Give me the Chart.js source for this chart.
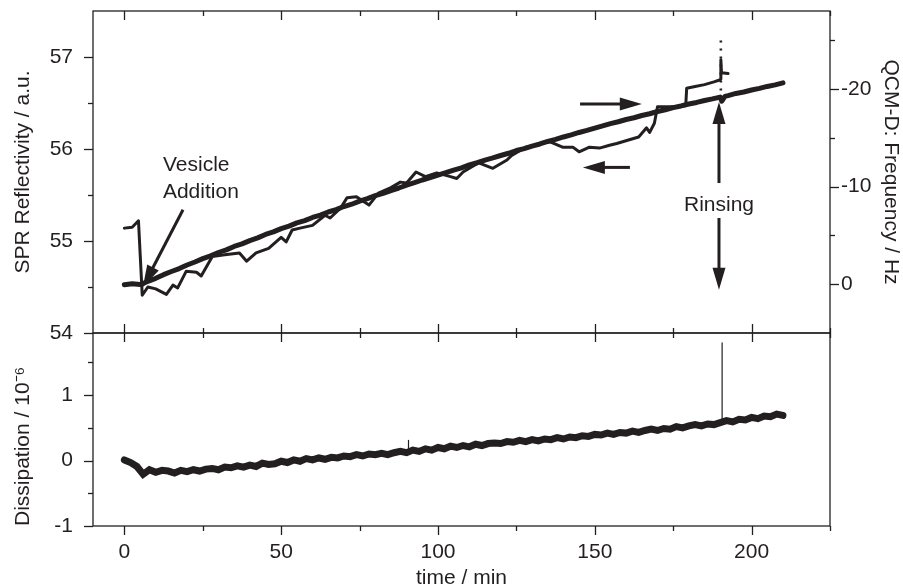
<!DOCTYPE html>
<html>
<head>
<meta charset="utf-8">
<title>SPR / QCM-D vesicle adsorption</title>
<script src="https://cdn.jsdelivr.net/npm/chart.js@4.4.1/dist/chart.umd.min.js"></script>
<style>
  html, body { margin: 0; padding: 0; background: #fff; overflow: hidden; }
  #wrap { position: relative; width: 903px; height: 585px; }
  #wrap canvas { position: absolute; left: 0; top: 0; }
</style>
</head>
<body>
<div id="wrap">
  <canvas id="topChart" width="903" height="585"></canvas>
  <canvas id="bottomChart" width="903" height="585"></canvas>
</div>
<script>
const ink = "#231f20";
Chart.defaults.font.family = "'Liberation Sans', Arial, Helvetica, sans-serif";
Chart.defaults.font.size = 21;
Chart.defaults.color = ink;

// time axis, min
const timeMin = -10, timeMax = 225;
const timeMajor = [0, 50, 100, 150, 200];
const timeMinor = [25, 75, 125, 175, 225];

// SPR reflectivity, left axis (a.u.)
const sprTime = [0, 2.5, 4.5, 5.7, 7.5, 10, 13.4, 15.5, 17, 19.7, 23, 24.5, 28, 32, 36.7, 39, 42, 46, 50, 51.6,
  53.5, 56, 60, 64, 65.6, 69, 71, 74, 78, 81, 85, 88, 90, 93, 96, 99.6, 104, 106, 108, 113,
  117.5, 122, 123.5, 128, 132, 135.6, 139.7, 143, 145, 148.3, 151.5, 154.7, 157, 161, 164, 166.5, 167.5, 169, 170, 175,
  179, 179.3, 182, 185, 188, 189.8, 190.2, 190.2, 190.4, 192.5];
const sprValue = [55.14, 55.15, 55.22, 54.41, 54.50, 54.48, 54.42, 54.52, 54.49, 54.67, 54.66, 54.62, 54.83, 54.85, 54.87, 54.78, 54.87, 54.92, 55.04, 54.99,
  55.12, 55.14, 55.17, 55.28, 55.25, 55.36, 55.47, 55.48, 55.39, 55.52, 55.58, 55.64, 55.63, 55.75, 55.70, 55.74, 55.70, 55.68, 55.75, 55.85,
  55.79, 55.88, 55.93, 56.02, 56.05, 56.08, 56.02, 56.02, 55.97, 56.02, 56.01, 56.04, 56.06, 56.10, 56.13, 56.23, 56.18, 56.28, 56.46, 56.46,
  56.47, 56.66, 56.68, 56.70, 56.73, 56.75, 56.76, 56.97, 56.83, 56.82];
const sprSpikeTime = [190.2, 190.2];
const sprSpikeValue = [56.55, 57.24];
const sprMajor = [54, 55, 56, 57];
const sprMinor = [54.5, 55.5, 56.5];

// QCM-D frequency, right axis (Hz)
const qcmTime = [0, 2.5, 5, 5.5, 7.5, 10, 12.5, 15, 17.5, 20, 22.5, 25, 27.5, 30, 32.5, 35, 37.5, 40, 42.5, 45,
  47.5, 50, 52.5, 55, 57.5, 60, 62.5, 65, 67.5, 70, 72.5, 75, 77.5, 80, 82.5, 85, 87.5, 90, 92.5, 95,
  97.5, 100, 102.5, 105, 107.5, 110, 112.5, 115, 117.5, 120, 122.5, 125, 127.5, 130, 132.5, 135, 137.5, 140, 142.5, 145,
  147.5, 150, 152.5, 155, 157.5, 160, 162.5, 165, 167.5, 170, 172.5, 175, 177.5, 180, 182.5, 185, 187.5, 190, 190.5, 191.5,
  192.5, 195, 197.5, 200, 202.5, 205, 207.5, 210];
const qcmValue = [0.05, -0.05, 0.02, 0, -0.3, -0.6, -0.98, -1.3, -1.6, -1.97, -2.28, -2.62, -2.9, -3.25, -3.52, -3.87, -4.13, -4.47, -4.75, -5.1,
  -5.36, -5.7, -5.95, -6.28, -6.52, -6.84, -7.08, -7.4, -7.65, -7.96, -8.2, -8.52, -8.78, -9.08, -9.32, -9.6, -9.86, -10.15, -10.4, -10.68,
  -10.92, -11.19, -11.43, -11.7, -11.93, -12.22, -12.45, -12.72, -12.94, -13.19, -13.42, -13.7, -13.9, -14.16, -14.37, -14.63, -14.84, -15.09, -15.3, -15.55,
  -15.76, -16.0, -16.22, -16.46, -16.65, -16.88, -17.06, -17.29, -17.47, -17.7, -17.88, -18.1, -18.27, -18.47, -18.63, -18.83, -18.99, -19.18, -18.75, -19.25,
  -19.33, -19.55, -19.7, -19.9, -20.07, -20.27, -20.43, -20.63];
const qcmMajor = [-20, -10, 0];
const qcmMinor = [-25, -15, -5];

// dissipation (10^-6)
const disTime = [0, 2, 4, 6, 8, 10, 12, 14, 16, 18, 20, 22, 24, 26, 28, 30, 32, 34, 36, 38,
  40, 42, 44, 46, 48, 50, 52, 54, 56, 58, 60, 62, 64, 66, 68, 70, 72, 74, 76, 78,
  80, 82, 84, 86, 88, 90, 92, 94, 96, 98, 100, 102, 104, 106, 108, 110, 112, 114, 116, 118,
  120, 122, 124, 126, 128, 130, 132, 134, 136, 138, 140, 142, 144, 146, 148, 150, 152, 154, 156, 158,
  160, 162, 164, 166, 168, 170, 172, 174, 176, 178, 180, 182, 184, 186, 188, 190, 192, 194, 196, 198,
  200, 202, 204, 206, 208, 210];
const disValue = [0.01, -0.03, -0.09, -0.21, -0.14, -0.18, -0.15, -0.16, -0.19, -0.15, -0.17, -0.14, -0.16, -0.13, -0.12, -0.14, -0.10, -0.11, -0.08, -0.10,
  -0.07, -0.09, -0.04, -0.06, -0.05, -0.01, -0.03, 0.01, -0.01, 0.03, 0.01, 0.04, 0.02, 0.05, 0.04, 0.07, 0.06, 0.09, 0.07, 0.10,
  0.09, 0.11, 0.09, 0.12, 0.14, 0.12, 0.16, 0.14, 0.18, 0.16, 0.20, 0.18, 0.22, 0.20, 0.23, 0.21, 0.25, 0.23, 0.26, 0.27,
  0.26, 0.29, 0.28, 0.31, 0.29, 0.32, 0.30, 0.33, 0.32, 0.35, 0.33, 0.36, 0.35, 0.38, 0.37, 0.40, 0.39, 0.42, 0.40, 0.43,
  0.42, 0.45, 0.43, 0.46, 0.48, 0.46, 0.49, 0.48, 0.52, 0.50, 0.53, 0.55, 0.53, 0.56, 0.55, 0.58, 0.61, 0.59, 0.63, 0.62,
  0.66, 0.64, 0.68, 0.67, 0.71, 0.69];
// single-sample glitches (null breaks the line between them)
const disSpikeTime = [90.6, 90.6, 90.7, 190.6, 190.6];
const disSpikeValue = [0.14, 0.31, null, 0.6, 1.8];
const disMajor = [-1, 0, 1];
const disMinor = [-0.5, 0.5, 1.5];

// annotations, in data units (time, SPR)
const notes = [
  { text: "Vesicle", x: 12.3, y: 55.82, align: "left" },
  { text: "Addition", x: 12.3, y: 55.53, align: "left" },
  { text: "Rinsing", x: 189.6, y: 55.39, align: "center" }
];
const arrows = [
  { from: [18.7, 55.34], to: [5.9, 54.5] },
  { from: [145.3, 56.49], to: [165.0, 56.49] },
  { from: [161.2, 55.8], to: [146.2, 55.8] },
  { from: [189.6, 55.63], to: [189.6, 56.51] },
  { from: [189.6, 55.25], to: [189.6, 54.47] }
];

const pts = (xs, ys) => xs.map((x, i) => ({ x, y: ys[i] }));
const useTicks = vals => s => { s.ticks = vals.map(v => ({ value: v })); };
const fixWidth = w => s => { s.width = w; s.paddingTop = 0; s.paddingBottom = 0; };
const fixHeight = h => s => { s.height = h; s.paddingLeft = 0; s.paddingRight = 0; };

// box around the plot area plus major/minor tick marks
const framePlugin = {
  id: "frame",
  afterDraw(chart, args, opts) {
    const { ctx, chartArea: a } = chart;
    ctx.save();
    ctx.strokeStyle = ink;
    ctx.lineWidth = 1.3;
    ctx.strokeRect(a.left, a.top, a.right - a.left, a.bottom - a.top);
    for (const m of opts.marks) {
      const s = chart.scales[m.scale];
      for (const [vals, len] of [[m.major, 9], [m.minor, 5]]) {
        for (const v of vals) {
          const p = Math.round(s.getPixelForValue(v)) + 0.5;
          const base = a[m.edge];
          ctx.beginPath();
          if (m.edge === "top" || m.edge === "bottom") {
            ctx.moveTo(p, base);
            ctx.lineTo(p, base + m.dir * len);
          } else {
            ctx.moveTo(base, p);
            ctx.lineTo(base + m.dir * len, p);
          }
          ctx.stroke();
        }
      }
    }
    ctx.restore();
  }
};

function drawArrow(ctx, x0, y0, x1, y1) {
  const dx = x1 - x0, dy = y1 - y0, len = Math.hypot(dx, dy);
  const ux = dx / len, uy = dy / len;
  const hl = 22, hw = 6.5;
  const bx = x1 - ux * hl, by = y1 - uy * hl;
  ctx.beginPath();
  ctx.moveTo(x0, y0);
  ctx.lineTo(bx + ux * 2, by + uy * 2);
  ctx.stroke();
  ctx.beginPath();
  ctx.moveTo(x1, y1);
  ctx.lineTo(bx - uy * hw, by + ux * hw);
  ctx.lineTo(bx + uy * hw, by - ux * hw);
  ctx.closePath();
  ctx.fill();
}

const notesPlugin = {
  id: "notes",
  afterDraw(chart) {
    const { ctx } = chart;
    const sx = chart.scales.x, sy = chart.scales.y;
    ctx.save();
    ctx.fillStyle = ink;
    ctx.strokeStyle = ink;
    ctx.lineWidth = 3;
    for (const ar of arrows) {
      drawArrow(ctx, sx.getPixelForValue(ar.from[0]), sy.getPixelForValue(ar.from[1]),
        sx.getPixelForValue(ar.to[0]), sy.getPixelForValue(ar.to[1]));
    }
    ctx.font = "21px 'Liberation Sans', Arial, sans-serif";
    ctx.textBaseline = "middle";
    for (const n of notes) {
      ctx.textAlign = n.align;
      ctx.fillText(n.text, sx.getPixelForValue(n.x), sy.getPixelForValue(n.y));
    }
    ctx.restore();
  }
};

const lineStyle = { pointRadius: 0, tension: 0, borderColor: ink, fill: false, borderJoinStyle: "round", borderCapStyle: "round" };

new Chart(document.getElementById("topChart"), {
  type: "line",
  data: {
    datasets: [
      { ...lineStyle, label: "QCM-D frequency", data: pts(qcmTime, qcmValue), yAxisID: "yQ", borderWidth: 5 },
      { ...lineStyle, label: "SPR reflectivity", data: pts(sprTime, sprValue), yAxisID: "y", borderWidth: 3 },
      { ...lineStyle, label: "SPR spike", data: pts(sprSpikeTime, sprSpikeValue), yAxisID: "y", borderWidth: 2.6, borderDash: [2, 6], borderCapStyle: "butt" }
    ]
  },
  options: {
    responsive: false,
    animation: false,
    events: [],
    layout: { padding: { top: 11, bottom: 252, left: 0, right: 0 } },
    plugins: {
      legend: { display: false },
      tooltip: { enabled: false },
      frame: {
        marks: [
          { scale: "x", edge: "top", dir: 1, major: timeMajor, minor: timeMinor },
          { scale: "x", edge: "bottom", dir: -1, major: timeMajor, minor: timeMinor },
          { scale: "y", edge: "left", dir: -1, major: sprMajor, minor: sprMinor },
          { scale: "yQ", edge: "right", dir: 1, major: qcmMajor, minor: qcmMinor }
        ]
      }
    },
    scales: {
      x: { type: "linear", min: timeMin, max: timeMax, display: false },
      y: {
        type: "linear", position: "left", min: 54, max: 57.5,
        afterBuildTicks: useTicks(sprMajor), afterFit: fixWidth(93),
        grid: { display: false, drawTicks: false }, border: { display: false },
        ticks: { padding: 20, color: ink, callback: v => String(v) },
        title: { display: true, text: "SPR Reflectivity / a.u.", color: ink, padding: { top: 11, bottom: 0 } }
      },
      yQ: {
        type: "linear", position: "right", min: -28, max: 5, reverse: true,
        afterBuildTicks: useTicks(qcmMajor), afterFit: fixWidth(73),
        grid: { display: false, drawTicks: false }, border: { display: false },
        ticks: { padding: 11, color: ink, callback: v => String(v) },
        title: { display: true, text: "QCM-D: Frequency / Hz", color: ink, padding: { top: 0, bottom: 0 } }
      }
    }
  },
  plugins: [framePlugin, notesPlugin]
});

new Chart(document.getElementById("bottomChart"), {
  type: "line",
  data: {
    datasets: [
      { ...lineStyle, label: "Dissipation", data: pts(disTime, disValue), borderWidth: 7, borderJoinStyle: "miter" },
      { ...lineStyle, label: "Dissipation glitches", data: pts(disSpikeTime, disSpikeValue), borderWidth: 1.2, spanGaps: false }
    ]
  },
  options: {
    responsive: false,
    animation: false,
    events: [],
    layout: { padding: { top: 333, bottom: 0, left: 0, right: 73 } },
    plugins: {
      legend: { display: false },
      tooltip: { enabled: false },
      frame: {
        marks: [
          { scale: "x", edge: "top", dir: 1, major: timeMajor, minor: timeMinor },
          { scale: "x", edge: "bottom", dir: 1, major: timeMajor, minor: timeMinor },
          { scale: "y", edge: "left", dir: -1, major: disMajor, minor: disMinor }
        ]
      }
    },
    scales: {
      x: {
        type: "linear", position: "bottom", min: timeMin, max: timeMax,
        afterBuildTicks: useTicks(timeMajor), afterFit: fixHeight(59),
        grid: { display: false, drawTicks: false }, border: { display: false },
        ticks: { padding: 14, color: ink, maxRotation: 0, callback: v => String(v) },
        title: { display: true, text: "time / min", color: ink, padding: { top: 0, bottom: -5.6 } }
      },
      y: {
        type: "linear", position: "left", min: -1, max: 1.95,
        afterBuildTicks: useTicks(disMajor), afterFit: fixWidth(93),
        grid: { display: false, drawTicks: false }, border: { display: false },
        ticks: { padding: 20, color: ink, callback: v => String(v) },
        title: { display: true, text: "Dissipation / 10⁻⁶", align: "start", color: ink, padding: { top: 11, bottom: 0 } }
      }
    }
  },
  plugins: [framePlugin]
});
</script>
</body>
</html>
